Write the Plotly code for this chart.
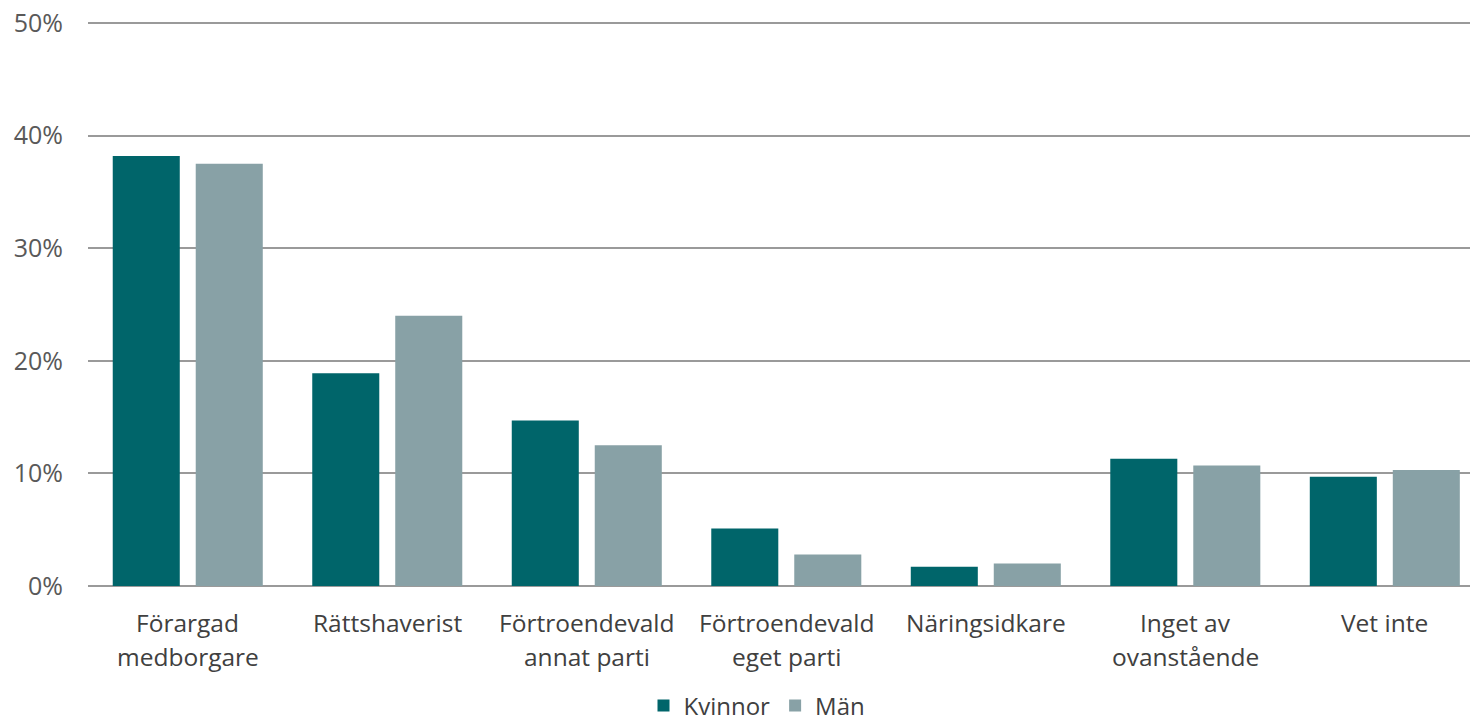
import plotly.graph_objects as go

categories = ["Förargad<br>medborgare", "Rättshaverist", "Förtroendevald<br>annat parti",
              "Förtroendevald<br>eget parti", "Näringsidkare", "Inget av<br>ovanstående", "Vet inte"]
kvinnor = [38.2, 18.9, 14.7, 5.1, 1.7, 11.3, 9.7]
man = [37.5, 24.0, 12.5, 2.8, 2.0, 10.7, 10.3]
tick_vals = [0, 10, 20, 30, 40, 50]
tick_text = ["0%", "10%", "20%", "30%", "40%", "50%"]

C_K = "#00656a"
C_M = "#88a1a6"
FONT = "Open Sans"

xs = list(range(len(categories)))
fig = go.Figure()
fig.add_trace(go.Bar(name="Kvinnor", x=xs, y=kvinnor, marker_color=C_K,
                     marker_line_width=0, width=0.336, offset=-0.376))
fig.add_trace(go.Bar(name="Män", x=xs, y=man, marker_color=C_M,
                     marker_line_width=0, width=0.336, offset=0.04))

W, H = 1470, 721
top, bottom = 22, 135
left = 88
plot_h = H - top - bottom

for i, lab in enumerate(categories):
    lines = lab.split("<br>")
    for j, ln in enumerate(lines):
        fig.add_annotation(x=i, xref="x", y=-(36 + 34 * j) / plot_h, yref="paper",
                           text=ln, showarrow=False, yanchor="middle", xanchor="center",
                           font=dict(family=FONT, size=24.5, color="#404040"))

fig.update_layout(
    width=W, height=H,
    margin=dict(l=left, r=0, t=top, b=bottom, autoexpand=False),
    plot_bgcolor="white", paper_bgcolor="white",
    barmode="group",
    font=dict(family=FONT, color="#595959"),
    xaxis=dict(range=[-0.5, 6.427], showticklabels=False, showgrid=False, zeroline=False,
               showline=False, ticks="", automargin=False),
    yaxis=dict(range=[0, 50.1], tickvals=tick_vals, ticktext=tick_text, showgrid=True,
               gridcolor="#9a9a9a", gridwidth=2, zeroline=True, zerolinecolor="#9a9a9a",
               zerolinewidth=2, showline=False, automargin=False, ticklabeloverflow="allow",
               tickfont=dict(family=FONT, size=25, color="#595959"), ticklabelstandoff=24),
    legend=dict(orientation="h", x=(757 - left) / (W - left), xanchor="center",
                y=-(706 - (H - bottom)) / plot_h,
                yanchor="middle", font=dict(family=FONT, size=24, color="#404040"),
                traceorder="normal"),
    showlegend=True,
)

fig.write_html("out.html", post_script="document.body.style.margin='0';",
               config={"displayModeBar": False})
